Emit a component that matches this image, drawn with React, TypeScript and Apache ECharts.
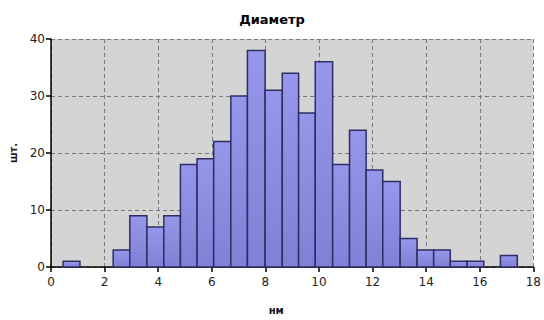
import React, { useEffect, useRef } from "react";
import * as echarts from "echarts";

const binEdges = [0.45, 1.08, 1.70, 2.32, 2.94, 3.58, 4.21, 4.83, 5.45, 6.07, 6.71, 7.33, 7.99, 8.63, 9.24, 9.86, 10.51, 11.14, 11.76, 12.38, 13.03, 13.66, 14.28, 14.90, 15.53, 16.15, 16.77, 17.40];
const counts = [1, 0, 0, 3, 9, 7, 9, 18, 19, 22, 30, 38, 31, 34, 27, 36, 18, 24, 17, 15, 5, 3, 3, 1, 1, 0, 2];
const xTicks = [0, 2, 4, 6, 8, 10, 12, 14, 16, 18];
const yTicks = [0, 10, 20, 30, 40];

export default function App() {
  const ref = useRef<HTMLDivElement>(null);
  useEffect(() => {
    if (!ref.current) return;
    const chart = echarts.init(ref.current, null, { renderer: "svg" });
    const data = counts.map((c, i) => [binEdges[i], binEdges[i + 1], c]);
    const font = "DejaVu Sans";
    chart.setOption({
      animation: false,
      backgroundColor: "#ffffff",
      title: {
        text: "Диаметр",
        left: "center",
        top: 8,
        textStyle: { fontFamily: font, fontWeight: "bold", fontSize: 13, color: "#000" },
      },
      grid: { left: 51, right: 9, top: 39, bottom: 53, show: true, backgroundColor: "#d4d4d4", borderWidth: 0 },
      xAxis: {
        type: "value",
        min: xTicks[0],
        max: xTicks[xTicks.length - 1],
        interval: 2,
        name: "нм",
        nameLocation: "middle",
        nameGap: 38,
        nameTextStyle: { fontFamily: font, fontWeight: "bold", fontSize: 10, color: "#111", padding: [0, 32, 0, 0] },
        axisLine: { show: true, onZero: false, lineStyle: { color: "#000", width: 1.5 } },
        axisTick: { show: true, length: 5, lineStyle: { color: "#000", width: 1.5 } },
        axisLabel: { fontFamily: font, fontSize: 12, color: "#222", margin: 9 },
        splitLine: { show: true, lineStyle: { color: "#7a7a7a", type: [4, 3], width: 1 } },
      },
      yAxis: {
        type: "value",
        min: yTicks[0],
        max: yTicks[yTicks.length - 1],
        interval: 10,
        name: "шт.",
        nameLocation: "middle",
        nameGap: 30,
        nameRotate: 90,
        nameTextStyle: { fontFamily: font, fontWeight: "bold", fontSize: 10, color: "#222" },
        axisLine: { show: true, lineStyle: { color: "#000", width: 1.5 } },
        axisTick: { show: true, length: 5, lineStyle: { color: "#000", width: 1.5 } },
        axisLabel: { fontFamily: font, fontSize: 12, color: "#222", margin: 6 },
        splitLine: { show: true, lineStyle: { color: "#7a7a7a", type: [4, 3], width: 1 } },
      },
      series: [
        {
          type: "custom",
          data,
          encode: { x: [0, 1], y: 2 },
          renderItem: (params: any, api: any) => {
            const x0 = api.value(0);
            const x1 = api.value(1);
            const c = api.value(2);
            if (!c) return null;
            const p0 = api.coord([x0, c]);
            const p1 = api.coord([x1, 0]);
            return {
              type: "rect",
              shape: { x: p0[0], y: p0[1], width: p1[0] - p0[0], height: p1[1] - p0[1] },
              style: {
                fill: new echarts.graphic.LinearGradient(0, 0, 0, 1, [
                  { offset: 0, color: "#9696ea" },
                  { offset: 1, color: "#8080d6" },
                ]),
                stroke: "#2e2e66",
                lineWidth: 1.5,
              },
            };
          },
        },
      ],
    });
    return () => chart.dispose();
  }, []);
  return <div ref={ref} style={{ position: "fixed", left: 0, top: 0, width: 544, height: 320 }} />;
}
